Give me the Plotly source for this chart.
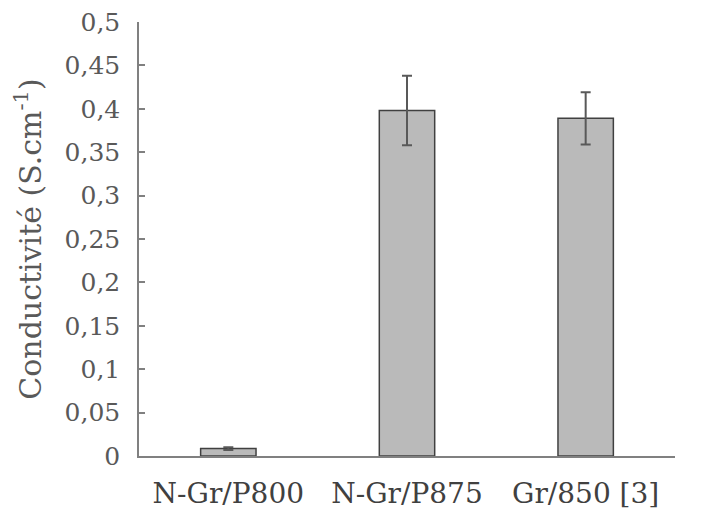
import plotly.graph_objects as go

categories = ["N-Gr/P800", "N-Gr/P875", "Gr/850 [3]"]
values = [0.0085, 0.398, 0.389]
errors = [0.0015, 0.040, 0.030]
tick_vals = [0, 0.05, 0.1, 0.15, 0.2, 0.25, 0.3, 0.35, 0.4, 0.45, 0.5]
tick_text = ["0", "0,05", "0,1", "0,15", "0,2", "0,25", "0,3", "0,35", "0,4", "0,45", "0,5"]

font_family = "DejaVu Serif"
txt_color = "#595959"

fig = go.Figure(go.Bar(
    x=categories, y=values,
    width=0.31,
    marker=dict(color="#BABABA", line=dict(color="#404040", width=1.5)),
    error_y=dict(type="data", array=errors, visible=True, color="#595959", thickness=2, width=5),
))

fig.update_layout(
    width=707, height=511,
    margin=dict(l=131, r=40, t=14, b=63),
    plot_bgcolor="white", paper_bgcolor="white",
    font=dict(family=font_family, color=txt_color, size=22),
    showlegend=False,
    xaxis=dict(
        automargin=False,
        showline=True, linecolor="#808080", linewidth=1.5,
        ticks="", tickfont=dict(size=28, color="#404040"),
        ticklabelstandoff=12,
        showgrid=False,
    ),
    yaxis=dict(
        automargin=False,
        range=[0, 0.5], tickvals=tick_vals, ticktext=tick_text,
        showline=True, linecolor="#808080", linewidth=1.5,
        ticks="inside", ticklen=6, tickcolor="#808080", tickwidth=1.5,
        ticklabelstandoff=12, ticklabeloverflow="allow",
        showgrid=False, zeroline=False,
        tickfont=dict(size=25, color=txt_color),
        title=dict(text="Conductivité (S.cm<sup>-1</sup>)", font=dict(size=30, color=txt_color), standoff=14),
    ),
)

fig.write_html("out.html")
